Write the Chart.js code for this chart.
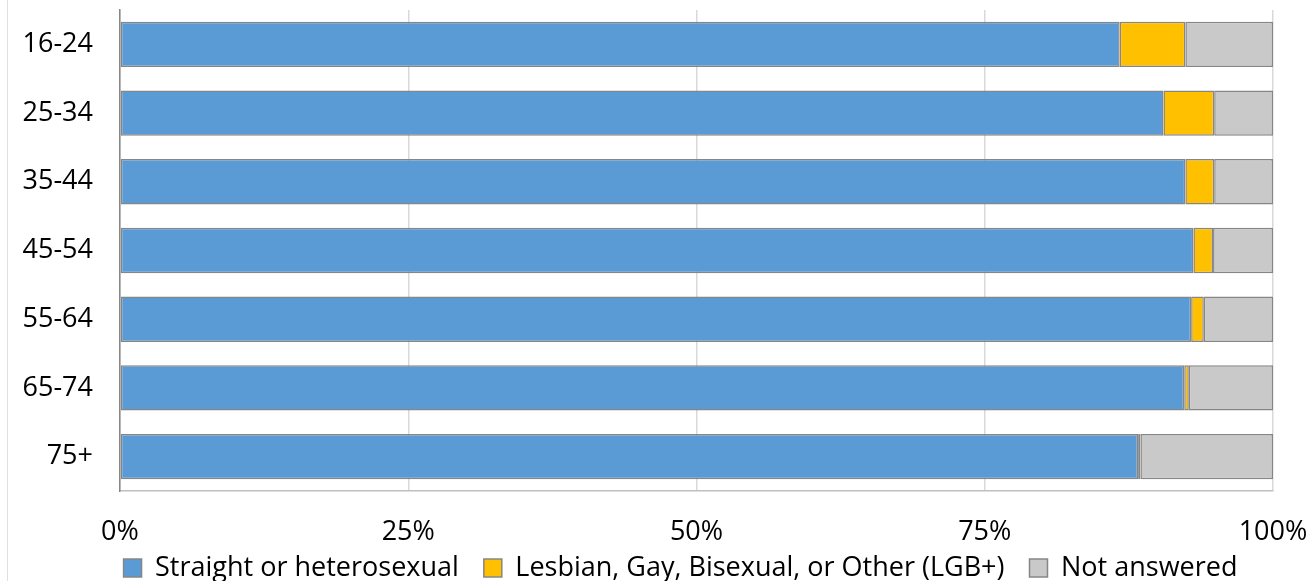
<!DOCTYPE html>
<html>
<head>
<meta charset="utf-8">
<script src="https://cdn.jsdelivr.net/npm/chart.js@4/dist/chart.umd.min.js"></script>
<style>
html,body{margin:0;padding:0;background:#fff;}
#wrap{position:relative;width:1309px;height:581px;}
#edge{position:absolute;left:7px;top:0;width:0;height:581px;border-left:1px solid #e0e0e0;}
canvas{position:absolute;left:0;top:0;}
</style>
</head>
<body>
<div id="wrap"><div id="edge"></div><canvas id="c" width="1309" height="581"></canvas></div>
<script>
const categories = ["16-24","25-34","35-44","45-54","55-64","65-74","75+"];
const straight = [86.7, 90.5, 92.4, 93.1, 92.9, 92.3, 88.3];
const lgb = [5.7, 4.4, 2.5, 1.7, 1.1, 0.4, 0.2];
const notAnswered = [7.6, 5.1, 5.1, 5.2, 6.0, 7.3, 11.5];
const xTicks = [0, 25, 50, 75, 100];

const FONT = "'Open Sans', 'Liberation Sans', sans-serif";
const border = '#868686';

const legendShift = {
  id: 'legendShift',
  afterLayout(chart) {
    const l = chart.legend;
    if (l) {
      l.left += 44; l.right += 44;
      l.top -= 21.5; l.bottom -= 21.5;
    }
  }
};

new Chart(document.getElementById('c'), {
  type: 'bar',
  data: {
    labels: categories,
    datasets: [
      {label: 'Straight or heterosexual', data: straight, backgroundColor: '#5B9BD5', borderColor: border, borderWidth: 1.5},
      {label: 'Lesbian, Gay, Bisexual, or Other (LGB+)', data: lgb, backgroundColor: '#FFC000', borderColor: border, borderWidth: 1.5},
      {label: 'Not answered', data: notAnswered, backgroundColor: '#C9C9C9', borderColor: border, borderWidth: 1.5}
    ]
  },
  options: {
    indexAxis: 'y',
    responsive: false,
    animation: false,
    devicePixelRatio: 1,
    categoryPercentage: 1,
    barPercentage: 0.66,
    borderSkipped: false,
    layout: {padding: {left: 0, right: 36, top: 10, bottom: -32}},
    scales: {
      x: {
        stacked: true,
        min: 0, max: 100,
        afterBuildTicks(s) { s.ticks = xTicks.map(v => ({value: v})); },
        afterFit(s) { s.height = 60; s.paddingLeft = 0; s.paddingRight = 0; },
        ticks: {
          callback: v => v + '%',
          font: {family: FONT, size: 27},
          color: '#000',
          padding: 25,
          maxRotation: 0
        },
        grid: {color: '#D9D9D9', lineWidth: 1.5, drawTicks: false},
        border: {display: true, color: '#BFBFBF', width: 1.5}
      },
      y: {
        stacked: true,
        afterFit(s) { s.width = 120; s.paddingTop = 0; s.paddingBottom = 0; },
        ticks: {
          font: {family: FONT, size: 27},
          color: '#000',
          padding: 27
        },
        grid: {display: false, drawTicks: false},
        border: {display: true, color: '#868686', width: 1.5}
      }
    },
    plugins: {
      legend: {
        position: 'bottom',
        labels: {
          font: {family: FONT, size: 27},
          color: '#000',
          boxWidth: 18,
          boxHeight: 18,
          padding: 25
        }
      },
      tooltip: {enabled: false}
    }
  },
  plugins: [legendShift]
});
</script>
</body>
</html>
